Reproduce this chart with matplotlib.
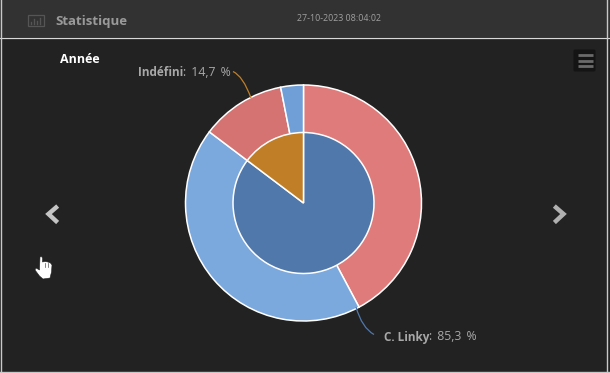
"""Statistique panel: yearly nested pie on a dark dashboard card."""

import matplotlib

matplotlib.use("Agg")
import matplotlib.pyplot as plt
import numpy as np
from matplotlib.patches import FancyBboxPatch, PathPatch, Polygon, Rectangle
from matplotlib.path import Path

plt.rcParams["font.family"] = ["Open Sans", "DejaVu Sans"]

WIDTH, HEIGHT = 610, 373

# inner ring: the two meters
inner_labels = ["C. Linky", "Indéfini"]
inner_values = [85.3, 14.7]
inner_colors = ["#5078ab", "#c07f27"]

# outer ring: detail of each meter
outer_values = [42.2, 43.1, 11.6, 3.1]
outer_colors = ["#e07b7b", "#7ba8dd", "#d57272", "#6f9fd6"]

title = "Statistique"
subtitle = "Année"
timestamp = "27-10-2023 08:04:02"

BG = "#222222"
TEXT = "#a8a8a8"


def pixel_axes(fig, x0, y0, x1, y1):
    return fig.add_axes(
        [x0 / WIDTH, 1 - y1 / HEIGHT, (x1 - x0) / WIDTH, (y1 - y0) / HEIGHT]
    )


def draw_pie(fig):
    cx, cy, outer_r, inner_r = 303.5, 203, 118, 70.5
    ax = pixel_axes(fig, cx - outer_r - 2, cy - outer_r - 2, cx + outer_r + 2, cy + outer_r + 2)
    ax.set_axis_off()
    wedge = {"edgecolor": "white", "linewidth": 1.1}
    ax.pie(
        outer_values,
        colors=outer_colors,
        startangle=90,
        counterclock=False,
        radius=outer_r,
        wedgeprops=wedge,
    )
    ax.pie(
        inner_values,
        colors=inner_colors,
        startangle=90,
        counterclock=False,
        radius=inner_r,
        wedgeprops=wedge,
    )
    lim = outer_r + 2
    ax.set_xlim(-lim, lim)
    ax.set_ylim(-lim, lim)


def label(ax, x, y, name, value):
    head = ax.text(x, y, name, color=TEXT, fontsize=8.5, fontweight="bold", va="center")
    # the value part is letter-spaced in the original
    ax.annotate(
        f": {value:.1f} %".replace(".", ",").replace(" ", "\u2009 "),
        xy=(1, 0.5),
        xycoords=head,
        color=TEXT,
        fontsize=8.8,
        va="center",
    )


def leader(ax, points, color):
    codes = [Path.MOVETO, Path.CURVE3, Path.CURVE3]
    ax.add_patch(PathPatch(Path(points, codes), fc="none", ec=color, lw=0.9))


def draw_card(ax):
    ax.add_patch(Rectangle((0, 0), WIDTH, 37, fc="#323232", ec="none"))
    ax.plot([0, WIDTH], [37.5, 37.5], color="#d8d8d8", lw=0.9)
    ax.plot([0.5, 0.5], [0, HEIGHT], color="#c8c8c8", lw=1.0)
    ax.plot([607, 607], [0, HEIGHT], color="#c8c8c8", lw=1.0)
    ax.plot([0, WIDTH], [372, 372], color="#c8c8c8", lw=1.0)

    # chart icon in the header
    ax.add_patch(Rectangle((27.5, 14.5), 16, 11, fc="none", ec="#555555", lw=0.9))
    for x, top in zip((31, 34, 37, 40), (22, 19, 21, 18)):
        ax.plot([x, x], [top, 24], color="#555555", lw=1.0)

    ax.text(55, 21, title, color="#9a9a9a", fontsize=9.5, fontweight="bold", va="center")
    ax.text(339, 18.5, timestamp, color="#a0a0a0", fontsize=6.4, ha="center", va="center")
    ax.text(80, 59.5, subtitle, color="white", fontsize=9, fontweight="bold", ha="center", va="center")


def draw_controls(ax):
    # export menu button
    ax.add_patch(
        FancyBboxPatch(
            (573.5, 49.5), 22, 22, boxstyle="round,pad=0,rounding_size=1.5", fc="#141414", ec="none"
        )
    )
    for y in (55, 60.5, 65.5):
        ax.plot([577.5, 593], [y, y], color="#6a6a6a", lw=2.0, solid_capstyle="butt")

    # previous / next arrows
    ax.plot([56, 48.5, 56], [207.5, 214, 221], color="#c4c4c4", lw=3.2, solid_joinstyle="miter")
    ax.plot([556, 563.5, 556], [207.5, 214, 221], color="#b0b0b0", lw=3.2, solid_joinstyle="miter")

    # mouse cursor
    hand = np.array(
        [
            (40, 257), (41.5, 256.5), (42.5, 258), (42.5, 262), (45, 261.5), (48, 262),
            (50.5, 263), (52, 265), (51.5, 272), (50, 278), (43, 279), (39.5, 276),
            (35, 270), (36, 268), (39.5, 270),
        ]
    )
    ax.add_patch(Polygon(hand, closed=True, fc="white", ec="#222222", lw=0.4))
    for x in (45, 47.5):
        ax.plot([x, x], [263, 267], color="#555555", lw=0.5)


def main():
    fig = plt.figure(figsize=(WIDTH / 100, HEIGHT / 100), dpi=100, facecolor=BG)

    back = pixel_axes(fig, 0, 0, WIDTH, HEIGHT)
    back.set_xlim(0, WIDTH)
    back.set_ylim(HEIGHT, 0)
    back.set_axis_off()
    draw_card(back)

    draw_pie(fig)

    front = pixel_axes(fig, 0, 0, WIDTH, HEIGHT)
    front.set_xlim(0, WIDTH)
    front.set_ylim(HEIGHT, 0)
    front.set_axis_off()
    draw_controls(front)

    leader(front, [(233, 71.5), (243, 76), (251, 98)], inner_colors[1])
    leader(front, [(356, 307), (362, 328), (374, 334.5)], inner_colors[0])
    label(front, 138, 72.5, inner_labels[1], inner_values[1])
    label(front, 384, 337, inner_labels[0], inner_values[0])

    fig.savefig("out.png", dpi=100, facecolor=BG)


if __name__ == "__main__":
    main()
